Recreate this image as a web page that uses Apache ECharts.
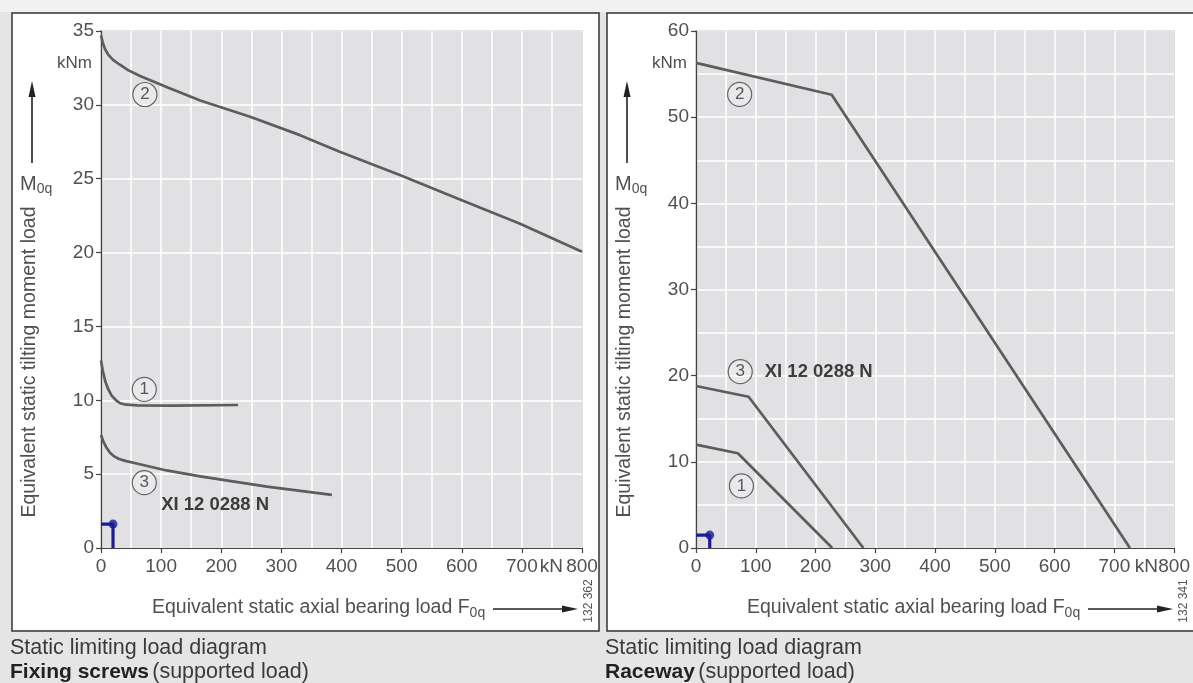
<!DOCTYPE html>
<html>
<head>
<meta charset="utf-8">
<script src="https://cdn.jsdelivr.net/npm/echarts@6/dist/echarts.min.js"></script>
<style>
html,body{margin:0;padding:0;background:#e5e5e5;}
#chart{width:1193px;height:683px;}
</style>
</head>
<body>
<div id="chart"></div>
<script>
// ---------- data ----------
const xTickValues = [0, 100, 200, 300, 400, 500, 600, 700, 800];
const screwsYTicks = [0, 5, 10, 15, 20, 25, 30, 35];
const racewayYTicks = [0, 10, 20, 30, 40, 50, 60];

// Left: Fixing screws (supported load)
const screwsCurve1 = [[0,12.7],[3,12.0],[7,11.3],[12,10.75],[18,10.3],[25,10.0],[32,9.8],[42,9.7],[60,9.66],[120,9.64],[228,9.68]];
const screwsCurve2 = [[0,34.7],[3,34.2],[7,33.75],[12,33.4],[20,33.05],[32,32.7],[45,32.35],[65,31.95],[110,31.2],[165,30.3],[248,29.2],[331,27.95],[396,26.85],[497,25.25],[597,23.6],[697,21.95],[800,20.05]];
const screwsCurve3 = [[0,7.65],[4,7.2],[9,6.8],[15,6.45],[22,6.2],[30,6.03],[42,5.88],[54,5.77],[109,5.25],[165,4.85],[276,4.15],[384,3.6]];
const screwsLoadPoint = [20, 1.62];
const screwsCurveLabels = [[73,30.7,'2'],[72,10.74,'1'],[72,4.42,'3']];
const screwsBearingLabel = [100, 2.9, 'XI 12 0288 N'];

// Right: Raceway (supported load)
const racewayCurve1 = [[0,12.0],[70,11.0],[228,0]];
const racewayCurve2 = [[0,56.3],[227,52.6],[726,0]];
const racewayCurve3 = [[0,18.8],[88,17.55],[280,0]];
const racewayLoadPoint = [23, 1.5];
const racewayCurveLabels = [[73,52.65,'2'],[74,20.46,'3'],[76,7.2,'1']];
const racewayBearingLabel = [115, 20.46, 'XI 12 0288 N'];

// ---------- styling ----------
const FONT = 'Liberation Sans';
const TXT = '#505050';
const CURVE = '#5d5d5d';
const BLUE = '#1c1c96';

function xAxis(gi) {
  return {
    type: 'value', gridIndex: gi, min: 0, max: 800, interval: 100,
    axisLine: { show: true, onZero: false, lineStyle: { color: '#444', width: 1.2 } },
    axisTick: { show: true, length: 5, lineStyle: { color: '#444', width: 1.2 } },
    minorTick: { show: false, splitNumber: 2 },
    minorSplitLine: { show: true, lineStyle: { color: '#ffffff', width: 1.5 } },
    splitLine: { show: true, lineStyle: { color: '#ffffff', width: 1.5 } },
    axisLabel: { color: TXT, fontFamily: FONT, fontSize: 19, margin: 9,
      formatter: v => xTickValues.includes(v) ? String(v) : '' }
  };
}
function yAxis(gi, max, interval, ticks, minor) {
  return {
    type: 'value', gridIndex: gi, min: 0, max: max, interval: interval,
    axisLine: { show: true, onZero: false, lineStyle: { color: '#444', width: 1.2 } },
    axisTick: { show: true, length: 5, lineStyle: { color: '#444', width: 1.2 } },
    minorTick: { show: false, splitNumber: 2 },
    minorSplitLine: { show: minor, lineStyle: { color: '#ffffff', width: 1.5 } },
    splitLine: { show: true, lineStyle: { color: '#ffffff', width: 1.5 } },
    axisLabel: { color: TXT, fontFamily: FONT, fontSize: 19, margin: 7,
      formatter: v => ticks.includes(v) ? String(v) : '' }
  };
}
function curve(gi, data) {
  return { type: 'line', xAxisIndex: gi, yAxisIndex: gi, data: data, showSymbol: false,
    smooth: false, silent: true, lineStyle: { color: CURVE, width: 2.7, join: 'round' }, z: 3 };
}
function loadMarker(gi, p) {
  return [
    { type: 'line', xAxisIndex: gi, yAxisIndex: gi, data: [[0, p[1]], [p[0], p[1]], [p[0], 0]],
      showSymbol: false, silent: true, lineStyle: { color: BLUE, width: 3.2 }, z: 4 },
    { type: 'scatter', xAxisIndex: gi, yAxisIndex: gi, data: [p], symbolSize: 9,
      itemStyle: { color: BLUE }, silent: true, z: 5 }
  ];
}
function circleLabels(gi, arr) {
  return { type: 'scatter', xAxisIndex: gi, yAxisIndex: gi, data: arr, symbol: 'circle', symbolSize: 24,
    silent: true, z: 6,
    itemStyle: { color: 'rgba(255,255,255,0.35)', borderColor: '#444', borderWidth: 1.2 },
    label: { show: true, position: 'inside', formatter: p => p.data[2], color: '#333',
      fontFamily: FONT, fontSize: 17 } };
}
function bearingText(gi, arr) {
  return { type: 'scatter', xAxisIndex: gi, yAxisIndex: gi, data: [arr], symbolSize: 0, silent: true, z: 6,
    label: { show: true, position: 'right', distance: 0, formatter: p => p.data[2], color: '#111',
      fontFamily: FONT, fontSize: 18.5, fontWeight: 'bold' } };
}

function panelGraphics(dx, code, caption1, caption2bold, caption2rest, boxW) {
  return [
    { type: 'rect', z: -10, shape: { x: 12 + dx, y: 13, width: boxW, height: 618 },
      style: { fill: '#ffffff', stroke: '#333', lineWidth: 1.5 } },
    // y axis name
    { type: 'text', x: 30 + dx, y: 362, rotation: Math.PI / 2,
      style: { text: 'Equivalent static tilting moment load', fill: TXT, font: '19.5px ' + FONT,
        align: 'center', verticalAlign: 'middle' } },
    { type: 'text', x: 20 + dx, y: 184,
      style: { text: '{m|M}{s|0q}', fill: TXT, align: 'left', verticalAlign: 'middle',
        rich: { m: { fontFamily: FONT, fontSize: 20, fill: TXT },
                s: { fontFamily: FONT, fontSize: 14, fill: TXT, padding: [10, 0, 0, 0] } } } },
    { type: 'line', shape: { x1: 32 + dx, y1: 163, x2: 32 + dx, y2: 94 }, style: { stroke: '#222', lineWidth: 1.6 } },
    { type: 'polygon', shape: { points: [[32 + dx, 81], [28.5 + dx, 97], [35.5 + dx, 97]] }, style: { fill: '#222' } },
    { type: 'text', x: 92 + dx, y: 63,
      style: { text: 'kNm', fill: TXT, font: '17px ' + FONT, align: 'right', verticalAlign: 'middle' } },
    { type: 'text', x: 563 + dx, y: 567,
      style: { text: 'kN', fill: TXT, font: '19px ' + FONT, align: 'right', verticalAlign: 'middle' } },
    // x axis name
    { type: 'text', x: 152 + dx, y: 608,
      style: { text: '{t|Equivalent static axial bearing load F}{s|0q}', align: 'left', verticalAlign: 'middle',
        rich: { t: { fontFamily: FONT, fontSize: 19.5, fill: TXT },
                s: { fontFamily: FONT, fontSize: 14, fill: TXT, padding: [10, 0, 0, 0] } } } },
    { type: 'line', shape: { x1: 493 + dx, y1: 609, x2: 566 + dx, y2: 609 }, style: { stroke: '#222', lineWidth: 1.6 } },
    { type: 'polygon', shape: { points: [[578 + dx, 609], [562 + dx, 605.5], [562 + dx, 612.5]] }, style: { fill: '#222' } },
    { type: 'text', x: 589 + dx, y: 601, rotation: Math.PI / 2,
      style: { text: code, fill: '#555', font: '12px ' + FONT, align: 'center', verticalAlign: 'middle' } },
    // captions
    { type: 'text', x: 10 + dx, y: 648,
      style: { text: caption1, fill: '#3a3a3a', font: '21.5px ' + FONT, align: 'left', verticalAlign: 'middle' } },
    { type: 'text', x: 10 + dx, y: 672,
      style: { text: '{b|' + caption2bold + '} {r|' + caption2rest + '}', align: 'left', verticalAlign: 'middle',
        rich: { b: { fontFamily: FONT, fontSize: 21, fontWeight: 'bold', fill: '#222' },
                r: { fontFamily: FONT, fontSize: 21.5, fill: '#3a3a3a' } } } }
  ];
}

const chart = echarts.init(document.getElementById('chart'), null, { renderer: 'canvas' });
chart.setOption({
  backgroundColor: '#e5e5e5',
  animation: false,
  grid: [
    { left: 101, top: 31, width: 481, height: 517, show: true, backgroundColor: '#e1e1e4', borderColor: '#444', borderWidth: 1.2, containLabel: false },
    { left: 696, top: 31, width: 481, height: 517, show: true, backgroundColor: '#e1e1e4', borderColor: '#444', borderWidth: 1.2, containLabel: false }
  ],
  xAxis: [xAxis(0), xAxis(1)],
  yAxis: [yAxis(0, 35, 5, screwsYTicks, false), yAxis(1, 60, 10, racewayYTicks, true)],
  graphic: [
    { type: 'rect', z: -20, shape: { x: 0, y: 0, width: 1193, height: 12 }, style: { fill: '#f1f1f1' } },
    ...panelGraphics(0, '132 362', 'Static limiting load diagram', 'Fixing screws', '(supported load)', 587),
    ...panelGraphics(595, '132 341', 'Static limiting load diagram', 'Raceway', '(supported load)', 600)
  ],
  series: [
    curve(0, screwsCurve1),
    curve(0, screwsCurve2),
    curve(0, screwsCurve3),
    ...loadMarker(0, screwsLoadPoint),
    circleLabels(0, screwsCurveLabels),
    bearingText(0, screwsBearingLabel),
    curve(1, racewayCurve1),
    curve(1, racewayCurve2),
    curve(1, racewayCurve3),
    ...loadMarker(1, racewayLoadPoint),
    circleLabels(1, racewayCurveLabels),
    bearingText(1, racewayBearingLabel)
  ]
});
</script>
</body>
</html>
